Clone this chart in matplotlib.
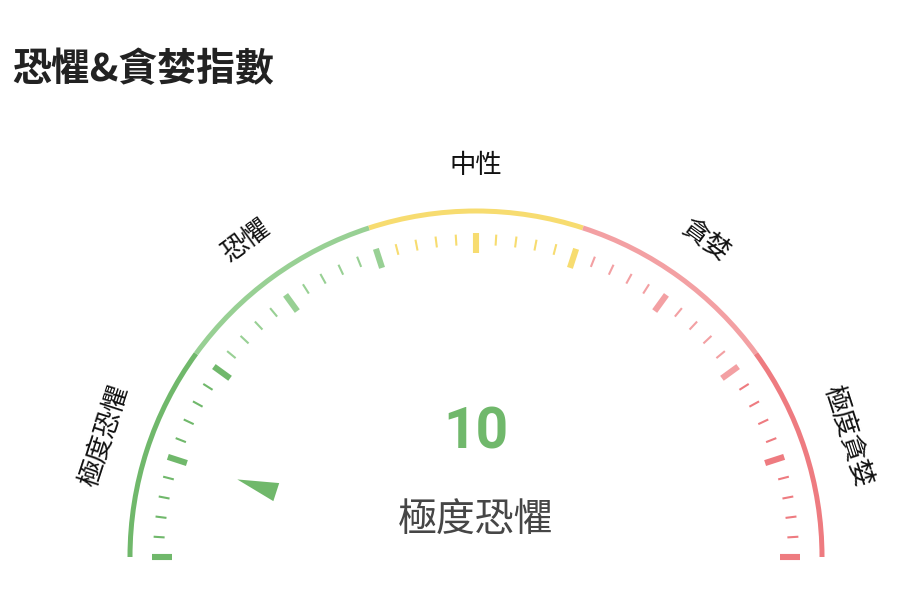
import numpy as np
import matplotlib.pyplot as plt
from matplotlib.patches import Wedge, Polygon

# gauge data
value = 10
seg_ends = [20, 40, 60, 80, 100]
seg_labels = ['極度恐懼', '恐懼', '中性', '貪婪', '極度貪婪']
seg_colors = ['#70b86b', '#98d094', '#f7dc70', '#f3a0a3', '#ee7b80']
title = '恐懼&貪婪指數'

plt.rcParams['font.family'] = ['Noto Sans CJK TC', 'DejaVu Sans']

W, H = 904, 610
fig = plt.figure(figsize=(W / 100, H / 100), dpi=100)
ax = fig.add_axes([0, 0, 1, 1])
ax.set_xlim(0, W)
ax.set_ylim(0, H)
ax.set_aspect('equal')
ax.axis('off')

cx, cy = 476, H - 557
R = 348.5


def ang(v):
    return 180 - v * 1.8


def seg_color(v):
    for end, c in zip(seg_ends, seg_colors):
        if v <= end:
            return c
    return seg_colors[-1]


# coloured arc
start = 0
for end, c in zip(seg_ends, seg_colors):
    ax.add_patch(Wedge((cx, cy), R, ang(end), ang(start), width=5, color=c, lw=0))
    start = end

# ticks, major every 10, minor every 2
for v in range(0, 101, 2):
    a = np.radians(ang(v))
    major = v % 10 == 0
    r0, r1 = (304, 324) if major else (312, 323)
    ax.plot([cx + r0 * np.cos(a), cx + r1 * np.cos(a)],
            [cy + r0 * np.sin(a), cy + r1 * np.sin(a)],
            color=seg_color(v), lw=4.4 if major else 1.5,
            solid_capstyle='butt')

# segment labels
start = 0
for end, lab in zip(seg_ends, seg_labels):
    mid = ang((start + end) / 2)
    a = np.radians(mid)
    ax.text(cx + 391 * np.cos(a), cy + 391 * np.sin(a), lab,
            rotation=mid - 90, rotation_mode='anchor',
            ha='center', va='center', fontsize=19, color='#111111')
    start = end

# pointer triangle
a = np.radians(ang(value))
u = np.array([np.cos(a), np.sin(a)])
n = np.array([-np.sin(a), np.cos(a)])
c0 = np.array([cx, cy])
tip = c0 + 251 * u
b1 = c0 + 210 * u + 9.5 * n
b2 = c0 + 210 * u - 9.5 * n
ax.add_patch(Polygon([tip, b1, b2], closed=True, color=seg_color(value), lw=0))

# centre texts
cur = seg_labels[0]
for end, lab in zip(seg_ends, seg_labels):
    if value <= end:
        cur = lab
        break
ax.text(cx, H - 433, str(value), ha='center', va='center', fontsize=41,
        fontweight='bold', family='Roboto', color=seg_color(value))
ax.text(cx, H - 521, cur, ha='center', va='center', fontsize=28,
        color='#464646')

fig.text(12 / W, 1 - 70 / H, title, ha='left', va='center', fontsize=28,
         fontweight='bold', color='#222222')

fig.savefig('out.png', dpi=100)
